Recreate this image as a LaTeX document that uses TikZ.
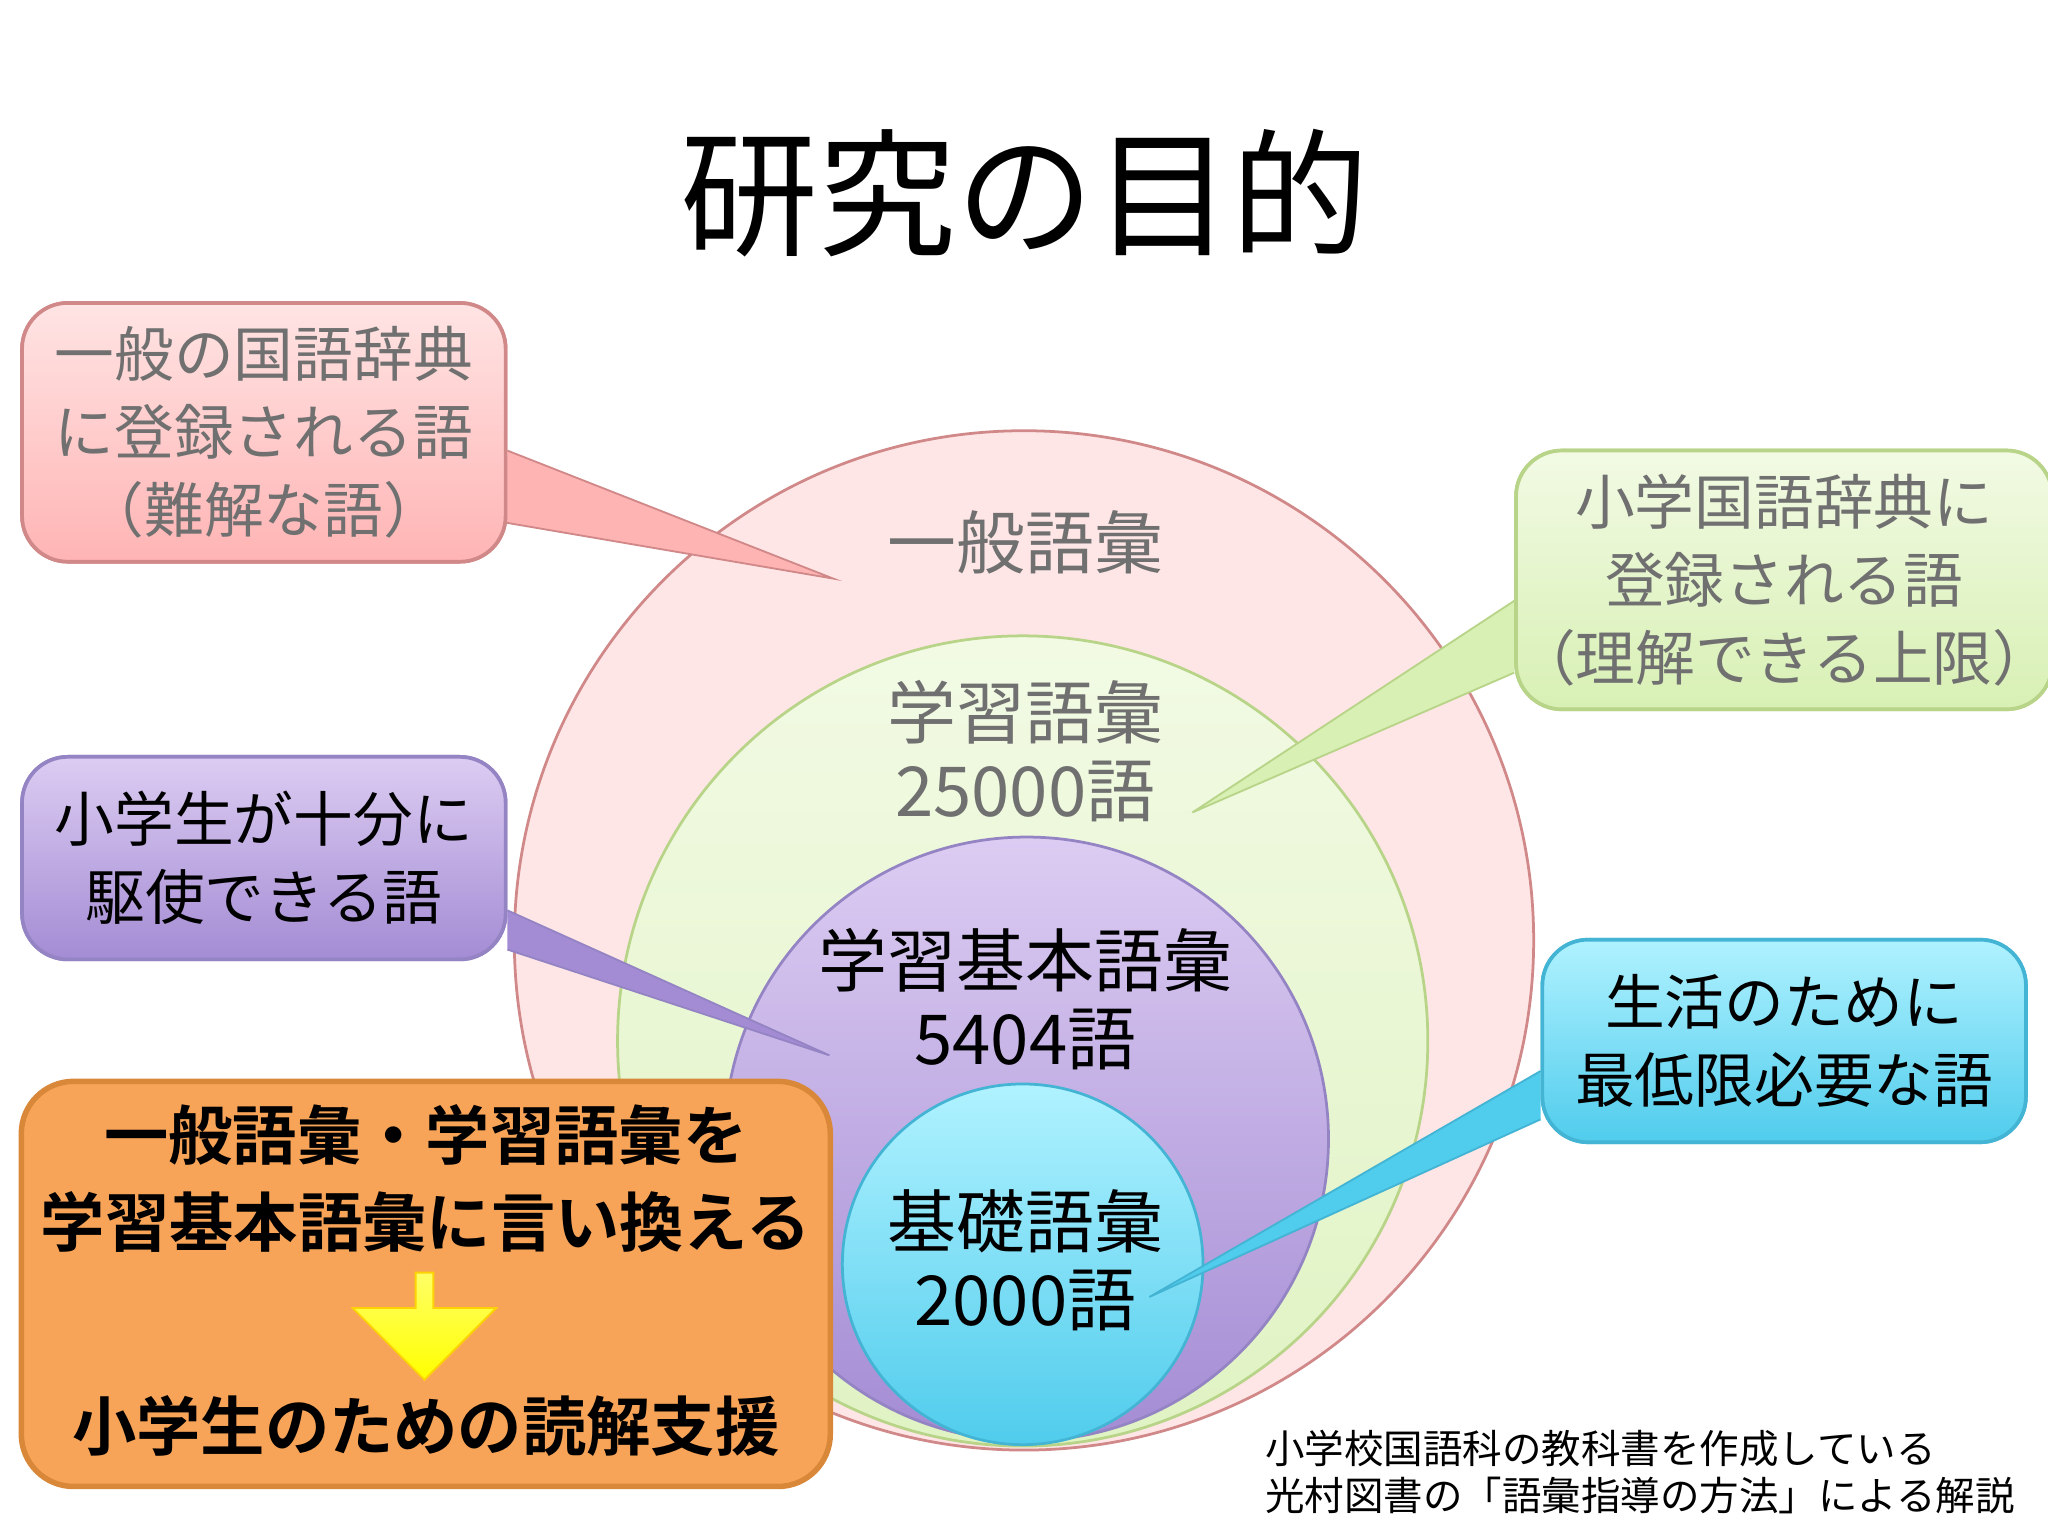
\documentclass[tikz,border=0pt]{standalone}
\usepackage{fontspec}
\setmainfont{Noto Sans CJK JP}[BoldFont={Noto Sans CJK JP Bold}]
\usetikzlibrary{shapes.arrows}
\definecolor{pkB}{HTML}{D08888}\definecolor{pkT}{HTML}{FFE4E4}\definecolor{pkL}{HTML}{FFB4B4}
\definecolor{grB}{HTML}{B8D488}\definecolor{grT}{HTML}{F2FAE4}\definecolor{grL}{HTML}{D8F0B4}
\definecolor{puB}{HTML}{9484C4}\definecolor{puT}{HTML}{DCCCF2}\definecolor{puL}{HTML}{A48CD4}
\definecolor{blB}{HTML}{44B4D4}\definecolor{blT}{HTML}{B0F2FF}\definecolor{blL}{HTML}{50CCEC}
\definecolor{orF}{HTML}{F8A458}\definecolor{orB}{HTML}{D88838}
\definecolor{txg}{HTML}{707070}
\tikzset{
 callout/.style={rounded corners=0.35cm,line width=0.8pt,minimum width=3.7cm,align=center,font=\fontsize{13}{17}\selectfont,inner sep=0pt},
 circ/.style={circle,line width=0.6pt,inner sep=0pt},
 ctext/.style={align=center,font=\fontsize{15}{17}\selectfont}
}
\begin{document}
\begin{tikzpicture}[x=0.01cm,y=-0.01cm]
\useasboundingbox (0,0) rectangle (1568,1176);
\node (title) at (785,148) {\fontsize{30}{32}\selectfont 研究の目的};
% circles
\node[circ,draw=pkB,fill=pkT!70!pkL!60,minimum size=7.8cm] (c1) at (784,720) {};
\node[circ,draw=grB,top color=grT,bottom color=grL!80,minimum size=6.2cm] (c2) at (783,797) {};
\node[circ,draw=puB,top color=puT,bottom color=puL,minimum size=4.62cm] (c3) at (786,872) {};
\node[circ,draw=blB,top color=blT,bottom color=blL,minimum size=2.76cm] (c4) at (783,968) {};
\node[ctext,text=txg] (t1) at (785,415) {一般語彙};
\node[ctext,text=txg] (t2) at (785,575) {学習語彙\\25000語};
\node[ctext] (t3) at (785,765) {学習基本語彙\\5404語};
\node[ctext] (t4) at (785,965) {基礎語彙\\2000語};
% callouts
\node[callout,draw=pkB,top color=pkT,bottom color=pkL,minimum height=1.98cm,text=txg] (b1) at (202,331) {一般の国語辞典\\に登録される語\\（難解な語）};
\coordinate (p1) at (638,443);
\fill[pkL,draw=pkB] ([yshift=-0.14cm]b1.east) -- (p1) -- ([yshift=-0.69cm,xshift=-0.02cm]b1.east);
\node[callout,draw=pkB,top color=pkT,bottom color=pkL,minimum height=1.98cm,text=txg] at (202,331) {一般の国語辞典\\に登録される語\\（難解な語）};

\node[callout,draw=grB,top color=grT,bottom color=grL,minimum height=1.98cm,text=txg] (b2) at (1366,444) {小学国語辞典に\\登録される語\\（理解できる上限）};
\coordinate (p2) at (913,622);
\fill[grL,draw=grB] ([yshift=-0.16cm]b2.west) -- (p2) -- ([yshift=-0.71cm]b2.west);
\node[callout,draw=grB,top color=grT,bottom color=grL,minimum height=1.98cm,text=txg] at (1366,444) {小学国語辞典に\\登録される語\\（理解できる上限）};

\node[callout,draw=puB,top color=puT,bottom color=puL,minimum height=1.55cm] (b3) at (202,657) {小学生が十分に\\駆使できる語};
\coordinate (p3) at (635,808);
\fill[puL,draw=puB] ([yshift=-0.4cm]b3.east) -- (p3) -- ([yshift=-0.7cm]b3.east);
\node[callout,draw=puB,top color=puT,bottom color=puL,minimum height=1.55cm] at (202,657) {小学生が十分に\\駆使できる語};

\node[callout,draw=blB,top color=blT,bottom color=blL,minimum height=1.55cm] (b4) at (1366,797) {生活のために\\最低限必要な語};
\coordinate (p4) at (880,993);
\fill[blL,draw=blB] ([yshift=-0.23cm]b4.west) -- (p4) -- ([yshift=-0.6cm]b4.west);
\node[callout,draw=blB,top color=blT,bottom color=blL,minimum height=1.55cm] at (1366,797) {生活のために\\最低限必要な語};
% orange box
\node[rounded corners=0.4cm,draw=orB,line width=1.2pt,fill=orF,minimum width=6.19cm,minimum height=3.1cm] (ob) at (326,983) {};
\node[font=\bfseries\fontsize{14}{19}\selectfont,align=center] (o1) at (326,902) {一般語彙・学習語彙を\\学習基本語彙に言い換える};
\node[single arrow,shape border rotate=270,draw=yellow!70!orange,top color=yellow!60,bottom color=yellow,minimum height=0.82cm,minimum width=1.1cm,single arrow head extend=0.05cm,inner sep=0pt] (ar) at (325,1012) {};
\node[font=\bfseries\fontsize{14}{17}\selectfont] (o2) at (326,1092) {小学生のための読解支援};
% footnote
\node[anchor=north west,align=left,font=\fontsize{8.6}{10.4}\selectfont,inner sep=0pt] (fn) at (968,1094) {小学校国語科の教科書を作成している\\光村図書の「語彙指導の方法」による解説};
\end{tikzpicture}
\end{document}
